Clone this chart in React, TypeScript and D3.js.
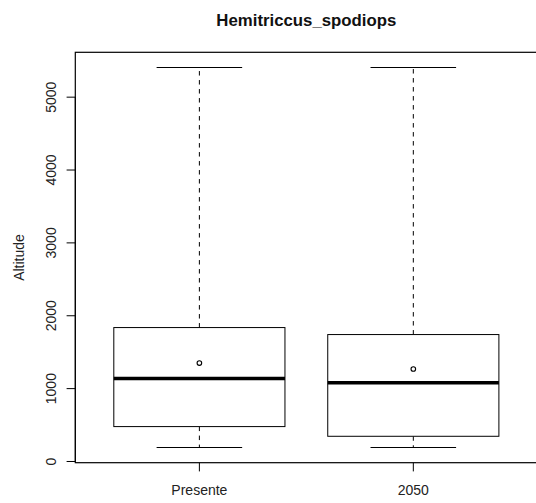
import React from "react";
import * as d3 from "d3";

const title = "Hemitriccus_spodiops";
const yLabel = "Altitude";
const categories = ["Presente", "2050"];
const whiskerLow = [192, 192];
const q1 = [479, 346];
const median = [1140, 1081];
const q3 = [1838, 1742];
const whiskerHigh = [5407, 5407];
const means = [1351, 1269];
const yTicks = [0, 1000, 2000, 3000, 4000, 5000];

const W = 536;
const H = 503;
const plot = { left: 75.3, right: 537.4, top: 52.3, bottom: 462.7 };

export default function App() {
  const lo = d3.min(whiskerLow)!;
  const hi = d3.max(whiskerHigh)!;
  const span = hi - lo;
  const y = d3
    .scaleLinear()
    .domain([lo - 0.04 * span, hi + 0.04 * span])
    .range([plot.bottom, plot.top]);
  const x = d3.scaleLinear().domain([0.42, 2.58]).range([plot.left, plot.right]);
  const unit = x(2) - x(1);
  const boxW = 0.8 * unit;
  const capW = 0.4 * unit;
  const font = "Liberation Sans, Arial, sans-serif";

  return (
    <svg
      width={W}
      height={H}
      style={{ position: "absolute", left: 0, top: 0, background: "#fff" }}
    >
      <rect x={0} y={0} width={W} height={H} fill="#fff" />
      <text
        x={(plot.left + plot.right) / 2}
        y={25.5}
        textAnchor="middle"
        fontFamily={font}
        fontWeight="bold"
        fontSize={16.8}
        fill="#111"
      >
        {title}
      </text>
      {categories.map((c, i) => {
        const cx = x(i + 1);
        return (
          <g key={c}>
            <line
              x1={cx}
              x2={cx}
              y1={y(q3[i])}
              y2={y(whiskerHigh[i])}
              stroke="#000"
              strokeWidth={1}
              strokeDasharray="4.5,4.5"
            />
            <line
              x1={cx}
              x2={cx}
              y1={y(q1[i])}
              y2={y(whiskerLow[i])}
              stroke="#000"
              strokeWidth={1}
              strokeDasharray="4.5,4.5"
            />
            <line
              x1={cx - capW / 2}
              x2={cx + capW / 2}
              y1={y(whiskerHigh[i])}
              y2={y(whiskerHigh[i])}
              stroke="#000"
              strokeWidth={1}
            />
            <line
              x1={cx - capW / 2}
              x2={cx + capW / 2}
              y1={y(whiskerLow[i])}
              y2={y(whiskerLow[i])}
              stroke="#000"
              strokeWidth={1}
            />
            <rect
              x={cx - boxW / 2}
              y={y(q3[i])}
              width={boxW}
              height={y(q1[i]) - y(q3[i])}
              fill="#fff"
              stroke="#000"
              strokeWidth={1}
            />
            <line
              x1={cx - boxW / 2}
              x2={cx + boxW / 2}
              y1={y(median[i])}
              y2={y(median[i])}
              stroke="#000"
              strokeWidth={3.5}
            />
            <circle
              cx={cx}
              cy={y(means[i])}
              r={2.3}
              fill="#fff"
              stroke="#000"
              strokeWidth={1.1}
            />
            <line
              x1={cx}
              x2={cx}
              y1={plot.bottom}
              y2={plot.bottom + 8.7}
              stroke="#000"
              strokeWidth={1}
            />
            <text
              x={cx}
              y={494.5}
              textAnchor="middle"
              fontFamily={font}
              fontSize={14}
              fill="#222"
            >
              {c}
            </text>
          </g>
        );
      })}
      {yTicks.map((t) => (
        <g key={t}>
          <line
            x1={plot.left - 8.7}
            x2={plot.left}
            y1={y(t)}
            y2={y(t)}
            stroke="#000"
            strokeWidth={1}
          />
          <text
            transform={`translate(56,${y(t)}) rotate(-90)`}
            textAnchor="middle"
            fontFamily={font}
            fontSize={14}
            fill="#222"
          >
            {t}
          </text>
        </g>
      ))}
      <line
        x1={plot.left}
        x2={plot.left}
        y1={y(yTicks[0])}
        y2={y(yTicks[yTicks.length - 1])}
        stroke="#000"
        strokeWidth={1}
      />
      <rect
        x={plot.left}
        y={plot.top}
        width={plot.right - plot.left}
        height={plot.bottom - plot.top}
        fill="none"
        stroke="#000"
        strokeWidth={1.2}
      />
      <text
        transform={`translate(24,${(plot.top + plot.bottom) / 2}) rotate(-90)`}
        textAnchor="middle"
        fontFamily={font}
        fontSize={14}
        fill="#222"
      >
        {yLabel}
      </text>
    </svg>
  );
}
